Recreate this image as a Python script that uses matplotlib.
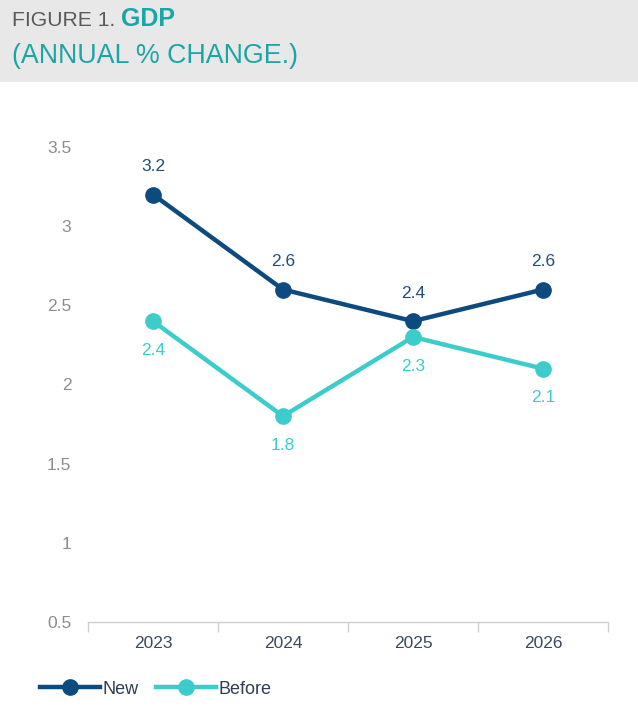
import matplotlib
matplotlib.use("Agg")
import matplotlib.pyplot as plt
from matplotlib.patches import Rectangle
from matplotlib.lines import Line2D

plt.rcParams['font.family'] = ['Liberation Sans', 'DejaVu Sans']

years = ["2023", "2024", "2025", "2026"]
new_vals = [3.2, 2.6, 2.4, 2.6]
before_vals = [2.4, 1.8, 2.3, 2.1]
y_ticks = [0.5, 1, 1.5, 2, 2.5, 3, 3.5]
y_ticklabels = ["0.5", "1", "1.5", "2", "2.5", "3", "3.5"]

NEW_C = "#0d4a80"
BEFORE_C = "#3ccccc"
TEAL = "#1aa6a6"

fig = plt.figure(figsize=(6.38, 7.26), dpi=100)
fig.patch.set_facecolor("white")

# header band
fig.add_artist(Rectangle((0, 1 - 82/726), 1, 82/726, transform=fig.transFigure,
                         facecolor="#e8e8e8", edgecolor="none", zorder=0))
t1 = fig.text(12/638, 1 - 20/726, "FIGURE 1. ", fontsize=15.2, color="#595959",
              va="center", ha="left")
fig.canvas.draw()
bb = t1.get_window_extent()
fig.text(bb.x1/638, 1 - 19/726, "GDP", fontsize=18, fontweight="bold",
         color=TEAL, va="center", ha="left")
fig.text(12/638, 1 - 56/726, "(ANNUAL % CHANGE.)", fontsize=19.3, color=TEAL,
         va="center", ha="left")

ax = fig.add_axes([88/638, 1 - 622/726, 520/638, 475/726])
x = list(range(len(years)))
ax.plot(x, new_vals, color=NEW_C, lw=3.2, marker="o", ms=11, zorder=3)
ax.plot(x, before_vals, color=BEFORE_C, lw=3.2, marker="o", ms=11, zorder=3)

for xi, v in zip(x, new_vals):
    ax.annotate(f"{v}", (xi, v), xytext=(0, 20), textcoords="offset points",
                ha="center", va="center", fontsize=12.5, color="#1f4e79")
for xi, v in zip(x, before_vals):
    ax.annotate(f"{v}", (xi, v), xytext=(0, -21), textcoords="offset points",
                ha="center", va="center", fontsize=12.5, color=BEFORE_C)

ax.set_xlim(-0.5, len(years) - 0.5)
ax.set_ylim(0.5, 3.5)
ax.set_yticks(y_ticks)
ax.set_yticklabels(y_ticklabels)
ax.set_xticks(x)
ax.set_xticklabels(years)
ax.set_xticks([i - 0.5 for i in range(len(years) + 1)], minor=True)

for s in ["top", "right", "left"]:
    ax.spines[s].set_visible(False)
ax.spines["bottom"].set_color("#d0d0d0")
ax.spines["bottom"].set_linewidth(1)
ax.tick_params(axis="y", length=0, pad=12, labelsize=12.5, labelcolor="#8c8c8c")
ax.tick_params(axis="x", which="major", length=0, pad=10, labelsize=12.5,
               labelcolor="#3a4a5f")
ax.tick_params(axis="x", which="minor", length=7, color="#d0d0d0", width=1)

handles = [Line2D([], [], color=NEW_C, lw=3.2, marker="o", ms=11),
           Line2D([], [], color=BEFORE_C, lw=3.2, marker="o", ms=11)]
fig.legend(handles, ["New", "Before"], loc="center left",
           bbox_to_anchor=(40/638, 1 - 689/726), ncol=2, frameon=False,
           fontsize=13, labelcolor="#2e3e55", handlelength=3.3,
           handletextpad=0.15, columnspacing=1.0, borderaxespad=0,
           borderpad=0)

fig.savefig("out.png", dpi=100, facecolor="white")
